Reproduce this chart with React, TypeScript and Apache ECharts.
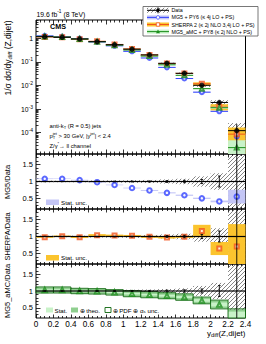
import React, { useEffect, useRef } from "react";
import * as echarts from "echarts";

const FONT = "'Liberation Sans', Arial, Helvetica, sans-serif";

// ---------------- data ----------------
const binEdges = [0, 0.2, 0.4, 0.6, 0.8, 1.0, 1.2, 1.4, 1.6, 1.8, 2.0, 2.2, 2.4];
const xTickLabels = ["0", "0.2", "0.4", "0.6", "0.8", "1", "1.2", "1.4", "1.6", "1.8", "2", "2.2", "2.4"];
const mainYTicks = [1e-4, 1e-3, 1e-2, 1e-1, 1];
const mainYTickLabels = ["10{s|-4}", "10{s|-3}", "10{s|-2}", "10{s|-1}", "1"];
const ratioYTicks = [0.5, 1, 1.5];
const ratioYTickLabels = ["0.5", "1", "1.5"];
const ratioYMinorTicks = [0.3, 0.4, 0.6, 0.7, 0.8, 0.9, 1.1, 1.2, 1.3, 1.4, 1.6, 1.7];

const dataValues = [1.19, 1.12, 0.95, 0.73, 0.54, 0.35, 0.2, 0.088, 0.033, 0.0102, 0.0019, 0.00012];
const dataStatRel = [0.005, 0.005, 0.006, 0.007, 0.009, 0.012, 0.016, 0.025, 0.035, 0.06, 0.16, 0.9];
const dataTotalRel = [0.025, 0.025, 0.025, 0.03, 0.035, 0.04, 0.045, 0.06, 0.08, 0.15, 0.24, 1.1];

const mg5Ratio = [1.08, 1.08, 1.04, 0.98, 0.9, 0.81, 0.74, 0.67, 0.6, 0.51, 0.42, 0.56];
const mg5Stat = [0.01, 0.01, 0.01, 0.01, 0.01, 0.012, 0.014, 0.016, 0.018, 0.02, 0.025, 0.2];

const sherpaRatio = [0.98, 1.01, 0.98, 1.04, 1.03, 1.02, 0.99, 0.97, 0.99, 1.16, 0.65, 0.71];
const sherpaStat = [0.02, 0.02, 0.025, 0.03, 0.025, 0.025, 0.03, 0.03, 0.03, 0.18, 0.19, 0.65];

const amcRatio = [1.03, 1.03, 1.0, 0.99, 0.96, 0.92, 0.89, 0.86, 0.82, 0.72, 0.6, 0.19];
const amcStat = [0.02, 0.02, 0.02, 0.02, 0.02, 0.025, 0.025, 0.03, 0.03, 0.04, 0.06, 0.2];
const amcTheo = [0.08, 0.08, 0.07, 0.07, 0.07, 0.08, 0.08, 0.08, 0.085, 0.09, 0.12, 0.26];
const amcPdf = [0.09, 0.09, 0.08, 0.08, 0.08, 0.09, 0.09, 0.09, 0.095, 0.1, 0.13, 0.28];

// ---------------- styles ----------------
const MG5 = "#3344ff";
const MG5_BAND = "#c4c6f6";
const SHERPA = "#f2541b";
const SHERPA_BAND = "#fbc42e";
const AMC = "#1d8f1d";
const AMC_STAT = "#c8f2c8";
const AMC_THEO = "#8fcf8f";
const AMC_PDF = "#0b650b";

const hatchSvg =
  "<svg xmlns='http://www.w3.org/2000/svg' width='4' height='4'><path d='M-1,1 L1,-1 M0,4 L4,0 M3,5 L5,3' stroke='#333' stroke-width='0.6' fill='none'/></svg>";
const hatchFill: any = {
  image: "data:image/svg+xml;charset=utf-8," + encodeURIComponent(hatchSvg),
  repeat: "repeat",
  imageWidth: 4,
  imageHeight: 4,
};

const GRIDS = [
  { top: 20, height: 134 },
  { top: 154, height: 55 },
  { top: 209, height: 55 },
  { top: 264, height: 54 },
];
const LEFT = 36;
const WIDTH = 209.5;
const MAIN_MIN = 1.22e-5;
const MAIN_MAX = 6.1;

function mkRect(api: any, cs: any, x0: number, x1: number, y0: number, y1: number, style: any) {
  const a = api.coord([x0, y0]);
  const b = api.coord([x1, y1]);
  let left = Math.max(Math.min(a[0], b[0]), cs.x);
  let right = Math.min(Math.max(a[0], b[0]), cs.x + cs.width);
  let top = Math.max(Math.min(a[1], b[1]), cs.y);
  let bottom = Math.min(Math.max(a[1], b[1]), cs.y + cs.height);
  if (!(right > left && bottom > top)) return null;
  return { type: "rect", shape: { x: left, y: top, width: right - left, height: bottom - top }, style };
}
function mkH(api: any, cs: any, x0: number, x1: number, y: number, style: any) {
  const a = api.coord([x0, y]);
  const b = api.coord([x1, y]);
  if (a[1] < cs.y - 0.1 || a[1] > cs.y + cs.height + 0.1) return null;
  return { type: "line", shape: { x1: a[0], y1: a[1], x2: b[0], y2: b[1] }, style };
}
function mkV(api: any, cs: any, x: number, y0: number, y1: number, style: any, cap = 0) {
  const a = api.coord([x, y0]);
  const b = api.coord([x, y1]);
  const lo = Math.max(Math.min(a[1], b[1]), cs.y);
  const hi = Math.min(Math.max(a[1], b[1]), cs.y + cs.height);
  if (!(hi > lo)) return [];
  const out: any[] = [{ type: "line", shape: { x1: a[0], y1: lo, x2: a[0], y2: hi }, style }];
  if (cap > 0) {
    const top = Math.min(a[1], b[1]);
    const bot = Math.max(a[1], b[1]);
    if (top >= cs.y) out.push({ type: "line", shape: { x1: a[0] - cap, y1: top, x2: a[0] + cap, y2: top }, style });
    if (bot <= cs.y + cs.height) out.push({ type: "line", shape: { x1: a[0] - cap, y1: bot, x2: a[0] + cap, y2: bot }, style });
  }
  return out;
}
const pos = (v: number) => Math.max(v, 1e-9);

function buildOption() {
  const n = dataValues.length;
  const lo = binEdges.slice(0, n);
  const hi = binEdges.slice(1, n + 1);
  const ctr = lo.map((e, i) => (e + hi[i]) / 2);

  const custom = (g: number, z: number, draw: (i: number, api: any, cs: any) => any[]) => ({
    type: "custom",
    xAxisIndex: g * 2,
    yAxisIndex: g * 2,
    z,
    silent: true,
    animation: false,
    data: ctr.map((c, i) => [c, g === 0 ? dataValues[i] : 1]),
    renderItem: (params: any, api: any) => {
      const cs = params.coordSys;
      const children = draw(params.dataIndex, api, cs).filter(Boolean);
      return { type: "group", children };
    },
  });
  const scatter = (g: number, z: number, values: number[], symbol: string, color: string, size: number) => ({
    type: "scatter",
    xAxisIndex: g * 2,
    yAxisIndex: g * 2,
    z,
    silent: true,
    symbol,
    symbolSize: size,
    itemStyle: { color, borderColor: color, borderWidth: 0.8 },
    data: ctr.map((c, i) => [c, values[i]]),
  });

  const series: any[] = [];
  // ---- main panel ----
  series.push(
    custom(0, 2, (i, api, cs) => [
      mkRect(api, cs, lo[i], hi[i], pos(dataValues[i] * (1 - dataTotalRel[i])), dataValues[i] * (1 + dataTotalRel[i]), {
        fill: hatchFill,
        stroke: "none",
      }),
    ])
  );
  const models = [
    { r: mg5Ratio, s: mg5Stat, c: MG5, b: MG5_BAND, sym: "emptyCircle" },
    { r: sherpaRatio, s: sherpaStat, c: SHERPA, b: SHERPA_BAND, sym: "emptyRect" },
    { r: amcRatio, s: amcStat, c: AMC, b: AMC_STAT, sym: "emptyTriangle" },
  ];
  models.forEach((m) => {
    series.push(
      custom(0, 3, (i, api, cs) => [
        mkRect(api, cs, lo[i], hi[i], pos(dataValues[i] * (m.r[i] - m.s[i])), dataValues[i] * (m.r[i] + m.s[i]), {
          fill: m.b,
          stroke: "none",
        }),
        mkH(api, cs, lo[i], hi[i], dataValues[i] * m.r[i], { stroke: m.c, lineWidth: 1 }),
      ])
    );
    series.push(scatter(0, 5, dataValues.map((d, i) => d * m.r[i]), m.sym, m.c, 4));
  });
  series.push(
    custom(0, 6, (i, api, cs) => [
      mkH(api, cs, lo[i], hi[i], dataValues[i], { stroke: "#000", lineWidth: 1 }),
      ...mkV(api, cs, ctr[i], pos(dataValues[i] * (1 - dataStatRel[i])), dataValues[i] * (1 + dataStatRel[i]), {
        stroke: "#000",
        lineWidth: 1,
      }),
    ])
  );
  series.push(scatter(0, 7, dataValues, "circle", "#000", 4.5));

  // ---- ratio panels ----
  const ratioData = (g: number) => [
    custom(g, 2, (i, api, cs) => [
      mkRect(api, cs, lo[i], hi[i], 1 - dataTotalRel[i], 1 + dataTotalRel[i], { fill: hatchFill, stroke: "none" }),
    ]),
    custom(g, 8, (i, api, cs) => [
      mkH(api, cs, lo[i], hi[i], 1, { stroke: "#000", lineWidth: 1.2 }),
      ...mkV(api, cs, ctr[i], 1 - dataStatRel[i], 1 + dataStatRel[i], { stroke: "#000", lineWidth: 0.9 }, 1.3),
    ]),
  ];
  // MG5
  series.push(...ratioData(1));
  series.push(
    custom(1, 3, (i, api, cs) => [
      mkRect(api, cs, lo[i], hi[i], mg5Ratio[i] - mg5Stat[i], mg5Ratio[i] + mg5Stat[i], { fill: MG5_BAND, stroke: "none" }),
    ])
  );
  series.push(scatter(1, 5, mg5Ratio, "emptyCircle", MG5, 4.5));
  // SHERPA
  series.push(...ratioData(2));
  series.push(
    custom(2, 3, (i, api, cs) => [
      mkRect(api, cs, lo[i], hi[i], sherpaRatio[i] - sherpaStat[i], sherpaRatio[i] + sherpaStat[i], {
        fill: SHERPA_BAND,
        stroke: "none",
      }),
    ])
  );
  series.push(scatter(2, 5, sherpaRatio, "emptyRect", SHERPA, 4));
  // aMC
  series.push(...ratioData(3));
  series.push(
    custom(3, 3, (i, api, cs) => [
      mkRect(api, cs, lo[i], hi[i], amcRatio[i] - amcTheo[i], amcRatio[i] + amcTheo[i], { fill: AMC_THEO, stroke: "none" }),
      mkRect(api, cs, lo[i], hi[i], amcRatio[i] - amcStat[i], amcRatio[i] + amcStat[i], { fill: AMC_STAT, stroke: "none" }),
      mkRect(api, cs, lo[i], hi[i], amcRatio[i] - amcPdf[i], amcRatio[i] + amcPdf[i], {
        fill: "none",
        stroke: AMC_PDF,
        lineWidth: 0.9,
      }),
    ])
  );
  series.push(scatter(3, 5, amcRatio, "emptyTriangle", AMC, 4.5));

  // ---- axes ----
  const grid = GRIDS.map((g) => ({
    left: LEFT,
    top: g.top,
    width: WIDTH,
    height: g.height,
    show: true,
    borderColor: "#000",
    borderWidth: 1,
    backgroundColor: "transparent",
    containLabel: false,
    outerBoundsMode: "none",
  }));
  const tickStyle = { color: "#000", width: 0.8 };
  const xAxis: any[] = [];
  GRIDS.forEach((_, g) => {
    ["bottom", "top"].forEach((p) => {
      xAxis.push({
        type: "value",
        gridIndex: g,
        position: p,
        min: 0,
        max: 2.4,
        interval: 0.2,
        axisLine: { show: false },
        splitLine: { show: false },
        axisTick: { show: true, inside: true, length: g === 0 ? 4.5 : 3.5, lineStyle: tickStyle },
        minorTick: { show: true, splitNumber: 4, length: g === 0 ? 2.5 : 2, lineStyle: tickStyle },
        axisLabel:
          g === 3 && p === "bottom"
            ? {
                show: true,
                fontSize: 8.2,
                fontFamily: FONT,
                color: "#000",
                margin: 2.5,
                showMinLabel: true,
                showMaxLabel: true,
                formatter: (v: number) => xTickLabels[Math.round(v / 0.2)] ?? "",
              }
            : { show: false },
      });
    });
  });
  const mainMinor: number[] = [];
  for (let e = -5; e <= 0; e++)
    for (let k = 2; k <= 9; k++) {
      const v = k * Math.pow(10, e);
      if (v > MAIN_MIN && v < MAIN_MAX) mainMinor.push(v);
    }
  const yAxis: any[] = [
    {
      type: "log",
      logBase: 10,
      gridIndex: 0,
      position: "left",
      min: MAIN_MIN,
      max: MAIN_MAX,
      axisLine: { show: false },
      splitLine: { show: false },
      axisTick: { show: true, inside: true, length: 5, lineStyle: tickStyle, customValues: mainYTicks },
      axisLabel: {
        show: true,
        customValues: mainYTicks,
        fontSize: 6.8,
        fontFamily: FONT,
        color: "#000",
        margin: 3,
        formatter: (v: number) => {
          const i = mainYTicks.findIndex((t) => Math.abs(Math.log10(t) - Math.log10(v)) < 1e-6);
          return i >= 0 ? mainYTickLabels[i] : "";
        },
        rich: { s: { fontSize: 5, fontFamily: FONT, color: "#000", padding: [0, 0, 5, 0] } },
      },
    },
    {
      type: "log",
      logBase: 10,
      gridIndex: 0,
      position: "left",
      min: MAIN_MIN,
      max: MAIN_MAX,
      axisLine: { show: false },
      splitLine: { show: false },
      axisTick: { show: true, inside: true, length: 2.5, lineStyle: tickStyle, customValues: mainMinor },
      axisLabel: { show: false },
    },
  ];
  [1, 2, 3].forEach((g) => {
    yAxis.push({
      type: "value",
      gridIndex: g,
      position: "left",
      min: 0.2,
      max: 1.8,
      axisLine: { show: false },
      splitLine: { show: false },
      axisTick: { show: true, inside: true, length: 4.5, lineStyle: tickStyle, customValues: ratioYTicks },
      axisLabel: {
        show: true,
        customValues: ratioYTicks,
        fontSize: 7.5,
        fontFamily: FONT,
        color: "#000",
        margin: 3,
        formatter: (v: number) => ratioYTickLabels[ratioYTicks.findIndex((t) => Math.abs(t - v) < 1e-6)] ?? "",
      },
    });
    yAxis.push({
      type: "value",
      gridIndex: g,
      position: "left",
      min: 0.2,
      max: 1.8,
      axisLine: { show: false },
      splitLine: { show: false },
      axisTick: { show: true, inside: true, length: 2.5, lineStyle: tickStyle, customValues: ratioYMinorTicks },
      axisLabel: { show: false },
    });
  });

  // ---- graphics (texts, legends) ----
  const rich = (fs: number) => ({
    sub: { fontSize: fs * 0.7, fontFamily: FONT, fill: "#000", padding: [fs * 0.6, 0, 0, 0] },
    subz: { fontSize: fs * 0.7, fontFamily: FONT, fill: "#000", padding: [fs * 0.6, 0, 0, 0], width: 0.01 },
    sup: { fontSize: fs * 0.7, fontFamily: FONT, fill: "#000", padding: [0, 0, fs * 0.8, 0] },
  });
  const txt = (x: number, y: number, text: string, fs: number, o: any = {}) => ({
    type: "text",
    x,
    y,
    z: 100,
    rotation: o.rot || 0,
    silent: true,
    style: {
      text,
      fontSize: fs,
      fontFamily: FONT,
      fontWeight: o.bold ? "bold" : "normal",
      fill: "#000",
      align: o.align || "left",
      textAlign: o.align || "left",
      verticalAlign: "middle",
      textVerticalAlign: "middle",
      rich: rich(fs),
    },
  });
  const rectG = (x: number, y: number, w: number, h: number, style: any, z = 60) => ({
    type: "rect",
    z,
    silent: true,
    shape: { x, y, width: w, height: h },
    style,
  });
  const lineG = (x1: number, y1: number, x2: number, y2: number, stroke: string, w = 1, z = 62) => ({
    type: "line",
    z,
    silent: true,
    shape: { x1, y1, x2, y2 },
    style: { stroke, lineWidth: w },
  });

  const LX0 = 147;
  const LX1 = 169;
  const LXC = 158;
  const rows = [10.3, 17.4, 24.5, 31.6];
  const graphic: any[] = [
    // legend box
    rectG(143, 6.5, 115, 29.5, { fill: "#fff", stroke: "#555", lineWidth: 0.8 }, 55),
    // Data glyph
    rectG(LX0, rows[0] - 2.5, LX1 - LX0, 5, { fill: hatchFill, stroke: "none" }),
    lineG(LX0, rows[0], LX1, rows[0], "#000"),
    lineG(LXC, rows[0] - 3, LXC, rows[0] + 3, "#000"),
    { type: "circle", z: 63, silent: true, shape: { cx: LXC, cy: rows[0], r: 1.7 }, style: { fill: "#000" } },
    // MG5 glyph
    rectG(LX0, rows[1] - 2, LX1 - LX0, 4, { fill: MG5_BAND, stroke: "none" }),
    lineG(LX0, rows[1], LX1, rows[1], MG5),
    { type: "circle", z: 63, silent: true, shape: { cx: LXC, cy: rows[1], r: 1.7 }, style: { fill: "#fff", stroke: MG5, lineWidth: 0.8 } },
    // SHERPA glyph
    rectG(LX0, rows[2] - 2, LX1 - LX0, 4, { fill: SHERPA_BAND, stroke: "none" }),
    lineG(LX0, rows[2], LX1, rows[2], SHERPA),
    rectG(LXC - 1.7, rows[2] - 1.7, 3.4, 3.4, { fill: "#fff", stroke: SHERPA, lineWidth: 0.8 }, 63),
    // aMC glyph
    rectG(LX0, rows[3] - 2, LX1 - LX0, 4, { fill: AMC_STAT, stroke: "none" }),
    lineG(LX0, rows[3], LX1, rows[3], AMC),
    {
      type: "polygon",
      z: 63,
      silent: true,
      shape: { points: [[LXC, rows[3] - 2], [LXC - 2, rows[3] + 1.6], [LXC + 2, rows[3] + 1.6]] },
      style: { fill: AMC },
    },
    txt(171.5, rows[0], "Data", 5.3),
    txt(171.5, rows[1], "MG5 + PY6 (≤ 4j LO + PS)", 5.3),
    txt(171.5, rows[2], "SHERPA 2 (≤ 2j NLO 3,4j LO + PS)", 5.3),
    txt(171.5, rows[3], "MG5_aMC + PY8 (≤ 2j NLO + PS)", 5.3),

    // header texts
    txt(36.5, 14, "19.6 fb{sup|-1} (8 TeV)", 6.8),
    txt(50, 26.8, "CMS", 7.2, { bold: true }),
    txt(49.5, 125.5, "anti-k{sub|T} (R = 0.5) jets", 5.8),
    txt(49.5, 136, "p{subz|T}{sup|jet} > 30 GeV, |y{sup|jet}| < 2.4", 5.8),
    txt(49.5, 145.5, "Z/γ{sup|*}→ ll channel", 5.8),

    // axis titles
    txt(7.5, 58, "1/σ dσ/dy{sub|diff} (Z,dijet)", 8.5, { rot: Math.PI / 2, align: "center" }),
    txt(7, 182, "MG5/Data", 7.5, { rot: Math.PI / 2, align: "center" }),
    txt(7, 236.5, "SHERPA/Data", 7.5, { rot: Math.PI / 2, align: "center" }),
    txt(7, 291, "MG5_aMC/Data", 7.5, { rot: Math.PI / 2, align: "center" }),
    txt(245.5, 333, "y{sub|diff}(Z,dijet)", 8, { align: "right" }),

    // ratio legends
    rectG(46, 199.5, 13, 5.5, { fill: MG5_BAND, stroke: "none" }),
    txt(61, 202.3, "Stat. unc.", 6.2),
    rectG(46, 255, 13, 5.5, { fill: SHERPA_BAND, stroke: "none" }),
    txt(61, 257.8, "Stat. unc.", 6.2),
    rectG(46, 307.5, 7, 5, { fill: AMC_STAT, stroke: "none" }),
    txt(54.5, 310, "Stat.", 6.2),
    rectG(71, 307.5, 7, 5, { fill: AMC_THEO, stroke: "none" }),
    txt(79.5, 310, "⊕ theo.", 6.2),
    rectG(105, 307.5, 6, 5, { fill: "#fff", stroke: AMC_PDF, lineWidth: 0.9 }),
    txt(112.5, 310, "⊕ PDF ⊕ α{sub|s} unc.", 6.2),
  ];

  return {
    animation: false,
    backgroundColor: "#fff",
    grid,
    xAxis,
    yAxis,
    series,
    graphic,
  };
}

export default function App() {
  const ref = useRef<HTMLDivElement>(null);
  useEffect(() => {
    if (!ref.current) return;
    const chart = echarts.init(ref.current, null, { renderer: "svg" });
    chart.setOption(buildOption() as any);
    return () => chart.dispose();
  }, []);
  return (
    <div
      ref={ref}
      style={{ position: "fixed", left: 0, top: 0, width: 266, height: 344, background: "#fff" }}
    />
  );
}
